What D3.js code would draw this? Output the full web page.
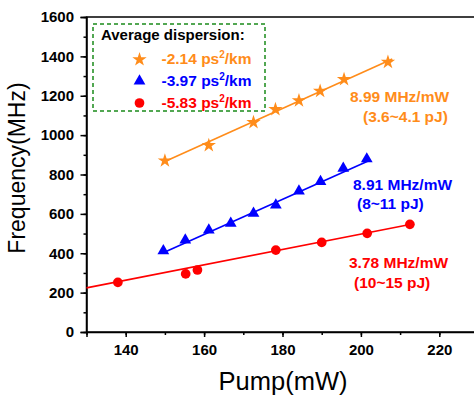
<!DOCTYPE html>
<html>
<head>
<meta charset="utf-8">
<script src="https://cdn.jsdelivr.net/npm/d3@7"></script>
<style>
  body { margin: 0; background: #fff; }
  svg { display: block; font-family: "Liberation Sans", Arial, sans-serif; }
  .tick text { font-size: 15px; font-weight: bold; fill: #000; }
</style>
</head>
<body>
<svg width="474" height="398"></svg>
<script>
// data
const pumpOrange = [150, 161.2, 172.6, 178.2, 184.2, 189.6, 195.7, 206.9];
const freqOrange = [870, 948, 1065, 1131, 1175, 1224, 1283, 1371];
const pumpBlue = [149.6, 155.2, 161.2, 166.8, 172.6, 178.3, 184.2, 189.7, 195.5, 201.5];
const freqBlue = [412, 467, 518, 552, 603, 645, 716, 764, 831, 879];
const pumpRed = [138, 155.3, 158.3, 178.3, 190, 201.6, 212.5];
const freqRed = [252, 295, 315, 416, 455, 501, 547];

// linear fits (start / end)
const fitOrange = [[150, 866], [208, 1387]];
const fitBlue = [[150, 406], [202, 870]];
const fitRed = [[130, 224], [212.5, 546]];

const xTicks = [140, 160, 180, 200, 220];
const yTicks = [0, 200, 400, 600, 800, 1000, 1200, 1400, 1600];

const orange = '#ff8c1a', blue = '#0000ff', red = '#ff0000', green = '#1a8a1a';

const svg = d3.select('svg');
const x = d3.scaleLinear().domain([130, 230]).range([86.5, 478.5]);
const y = d3.scaleLinear().domain([0, 1600]).range([332, 17]);

// frame
svg.append('rect')
  .attr('x', x(130)).attr('y', y(1600))
  .attr('width', x(230) - x(130)).attr('height', y(0) - y(1600))
  .attr('fill', 'none').attr('stroke', '#000').attr('stroke-width', 1.5);

// minor ticks
svg.append('g').attr('transform', `translate(0,${y(0)})`)
  .call(d3.axisBottom(x).tickValues(d3.range(130, 231, 10)).tickSize(3).tickFormat(''))
  .call(g => g.select('.domain').remove())
  .call(g => g.selectAll('line').attr('stroke-width', 1.5));
svg.append('g').attr('transform', `translate(${x(130)},0)`)
  .call(d3.axisLeft(y).tickValues(d3.range(0, 1601, 100)).tickSize(3).tickFormat(''))
  .call(g => g.select('.domain').remove())
  .call(g => g.selectAll('line').attr('stroke-width', 1.5));

// major ticks
svg.append('g').attr('transform', `translate(0,${y(0)})`)
  .call(d3.axisBottom(x).tickValues(xTicks).tickSize(5).tickPadding(7.5).tickFormat(d3.format('d')))
  .call(g => g.select('.domain').attr('stroke-width', 1.5))
  .call(g => g.selectAll('line').attr('stroke-width', 1.5));
svg.append('g').attr('transform', `translate(${x(130)},0)`)
  .call(d3.axisLeft(y).tickValues(yTicks).tickSize(6).tickPadding(6.5).tickFormat(d3.format('d')))
  .call(g => g.select('.domain').attr('stroke-width', 1.5))
  .call(g => g.selectAll('line').attr('stroke-width', 1.5));

// axis titles
svg.append('text')
  .attr('x', 283).attr('y', 390)
  .attr('text-anchor', 'middle')
  .style('font-size', '25.5px')
  .text('Pump(mW)');
svg.append('text')
  .attr('transform', 'translate(25,168) rotate(-90)')
  .attr('text-anchor', 'middle')
  .style('font-size', '23px')
  .text('Frequency(MHz)');

// fit lines
const line = d3.line().x(d => x(d[0])).y(d => y(d[1]));
[[fitOrange, orange], [fitBlue, blue], [fitRed, red]].forEach(([f, c]) => {
  svg.append('path').attr('d', line(f))
    .attr('fill', 'none').attr('stroke', c).attr('stroke-width', 1.6);
});

// markers
const star = d3.symbol().type(d3.symbolStar).size(64);
const tri = d3.symbol().type(d3.symbolTriangle).size(60);
const circ = d3.symbol().type(d3.symbolCircle).size(74);

function drawPoints(xs, ys, sym, c) {
  svg.append('g').selectAll('path')
    .data(xs.map((v, i) => [v, ys[i]]))
    .join('path')
    .attr('d', sym)
    .attr('transform', d => `translate(${x(d[0])},${y(d[1])})`)
    .attr('fill', c);
}
drawPoints(pumpOrange, freqOrange, star, orange);
drawPoints(pumpBlue, freqBlue, tri, blue);
drawPoints(pumpRed, freqRed, circ, red);

// slope annotations
const notes = [
  { c: orange, lines: [['8.99 MHz/mW', 350, 101.5], ['(3.6~4.1 pJ)', 363, 121.5]] },
  { c: blue, lines: [['8.91 MHz/mW', 353, 190], ['(8~11 pJ)', 357, 209]] },
  { c: red, lines: [['3.78 MHz/mW', 349, 268], ['(10~15 pJ)', 354, 288]] }
];
notes.forEach(n => {
  n.lines.forEach(([t, tx, ty]) => {
    svg.append('text').attr('x', tx).attr('y', ty)
      .attr('fill', n.c)
      .style('font-size', '15.5px').style('font-weight', 'bold')
      .text(t);
  });
});

// legend
const lg = svg.append('g');
lg.append('rect')
  .attr('x', 93).attr('y', 24).attr('width', 172).attr('height', 87)
  .attr('fill', 'none').attr('stroke', green)
  .attr('stroke-width', 1.5).attr('stroke-dasharray', '4,3');
lg.append('text').attr('x', 101).attr('y', 40)
  .style('font-size', '15px').style('font-weight', 'bold')
  .text('Average dispersion:');

const legendItems = [
  { sym: star, c: orange, v: '-2.14', yb: 64 },
  { sym: tri, c: blue, v: '-3.97', yb: 85.5 },
  { sym: circ, c: red, v: '-5.83', yb: 107.5 }
];
legendItems.forEach(d => {
  lg.append('path').attr('d', d.sym)
    .attr('transform', `translate(139.5,${d.yb - 4.5})`)
    .attr('fill', d.c);
  const t = lg.append('text').attr('x', 161.5).attr('y', d.yb)
    .attr('fill', d.c)
    .style('font-size', '15.5px').style('font-weight', 'bold');
  t.append('tspan').text(d.v + ' ps');
  t.append('tspan').attr('dy', -6).style('font-size', '10px').text('2');
  t.append('tspan').attr('dy', 6).text('/km');
});
</script>
</body>
</html>
